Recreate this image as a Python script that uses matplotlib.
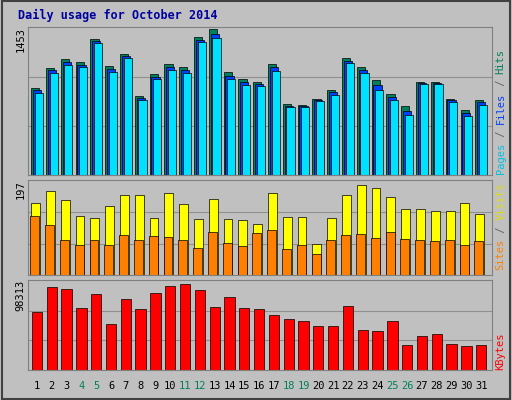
import matplotlib
matplotlib.use("Agg")
import matplotlib.pyplot as plt
import numpy as np

days = list(range(1, 32))
weekend = {4, 5, 11, 12, 18, 19, 25, 26}
hits_px = [88,68,59,62,39,66,54,96,74,64,67,37,29,72,79,82,64,104,105,99,90,58,67,80,94,106,82,82,99,110,100]
pages_px = [93,73,65,67,43,72,58,100,79,70,73,42,38,79,85,86,71,107,107,101,95,63,73,90,100,115,84,84,102,116,105]
visits_px = [202,190,200,215,218,206,194,194,218,193,203,219,199,219,220,224,193,216,216,244,218,194,184,187,196,208,208,210,211,202,214]
sites_px = [215,225,240,245,240,245,235,240,236,237,240,248,232,243,246,233,230,249,245,254,240,235,234,238,232,239,240,241,240,245,241]
kb_px = [312,287,289,308,294,324,299,309,293,286,284,290,307,297,308,309,315,319,321,326,326,306,330,331,321,345,336,334,344,346,345]

hits = [round((175 - p) / 148 * 1453) for p in hits_px]
pages = [round((175 - p) / 148 * 1453) for p in pages_px]
files = [round((h + p) / 2) for h, p in zip(hits, pages)]
visits = [round((275 - p) / 92 * 197) for p in visits_px]
sites = [round((275 - p) / 92 * 197) for p in sites_px]
kbytes = [round((370 - p) / 87 * 98313) for p in kb_px]

bg = '#C0C0C0'
fig = plt.figure(figsize=(5.12, 4.0), dpi=100, facecolor=bg)
fig.patches.append(plt.Rectangle((0.003, 0.003), 0.994, 0.994, transform=fig.transFigure,
                                 fill=False, ec='#404040', lw=1.5))
fig.text(0.035, 0.962, "Daily usage for October 2014", color='#0000A0', family='DejaVu Sans Mono',
         weight='bold', fontsize=8.5, ha='left', va='center')

x = np.array(days)
L, W = 0.055, 0.905

def mkax(b, h, top, label):
    ax = fig.add_axes([L, b, W, h], facecolor=bg)
    ax.set_xlim(0.4, 31.7)
    ax.set_ylim(0, top)
    ax.set_xticks([])
    ax.set_yticks([top])
    ax.set_yticklabels([label], rotation=90, va='top', family='DejaVu Sans Mono', fontsize=7.5)
    ax.tick_params(axis='y', length=0, pad=2)
    for s in ax.spines.values():
        s.set_color('#808080')
    for f in (0.33, 0.66):
        ax.axhline(top * f, color='#909090', lw=0.8, zorder=0)
    return ax

ax1 = mkax(0.5625, 0.37, 1453, "1453")
ax1.bar(x - 0.12, hits, 0.55, color='#00805C', ec='black', lw=0.5)
ax1.bar(x, files, 0.55, color='#0040FF', ec='black', lw=0.5)
ax1.bar(x + 0.12, pages, 0.55, color='#00E0FF', ec='black', lw=0.5)

ax2 = mkax(0.3125, 0.2375, 197 * 1.04, "197")
ax2.bar(x - 0.1, visits, 0.6, color='#FFFF00', ec='black', lw=0.5)
ax2.bar(x - 0.15, sites, 0.6, color='#FF8000', ec='black', lw=0.5)

ax3 = mkax(0.075, 0.225, 98313 * 1.04, "98313")
ax3.bar(x, kbytes, 0.7, color='#FF0000', ec='black', lw=0.5)
ax3.set_xticks(days)
ax3.set_xticklabels([str(d) for d in days], family='DejaVu Sans Mono', fontsize=7.5)
ax3.tick_params(axis='x', length=0, pad=8)
for lab, d in zip(ax3.get_xticklabels(), days):
    lab.set_color('#00805C' if d in weekend else 'black')

CH = 7.5 * 0.602 / 72 * 100 / 400  # char advance in figure fraction (vertical)

def rlabel(y0, parts):
    y = y0
    for txt, col in parts:
        fig.text(0.978, y, txt, color=col, rotation=90, family='DejaVu Sans Mono',
                 fontsize=7.5, ha='center', va='bottom')
        y += len(txt) * CH

rlabel(0.565, [("Pages", '#00C0E0'), (" / ", '#606060'), ("Files", '#0040FF'), (" / ", '#606060'), ("Hits", '#00805C')])
rlabel(0.325, [("Sites", '#FF8000'), (" / ", '#606060'), ("Visits", '#E0E000')])
rlabel(0.075, [("KBytes", '#FF0000')])

fig.savefig("out.png", dpi=100, facecolor=bg)
